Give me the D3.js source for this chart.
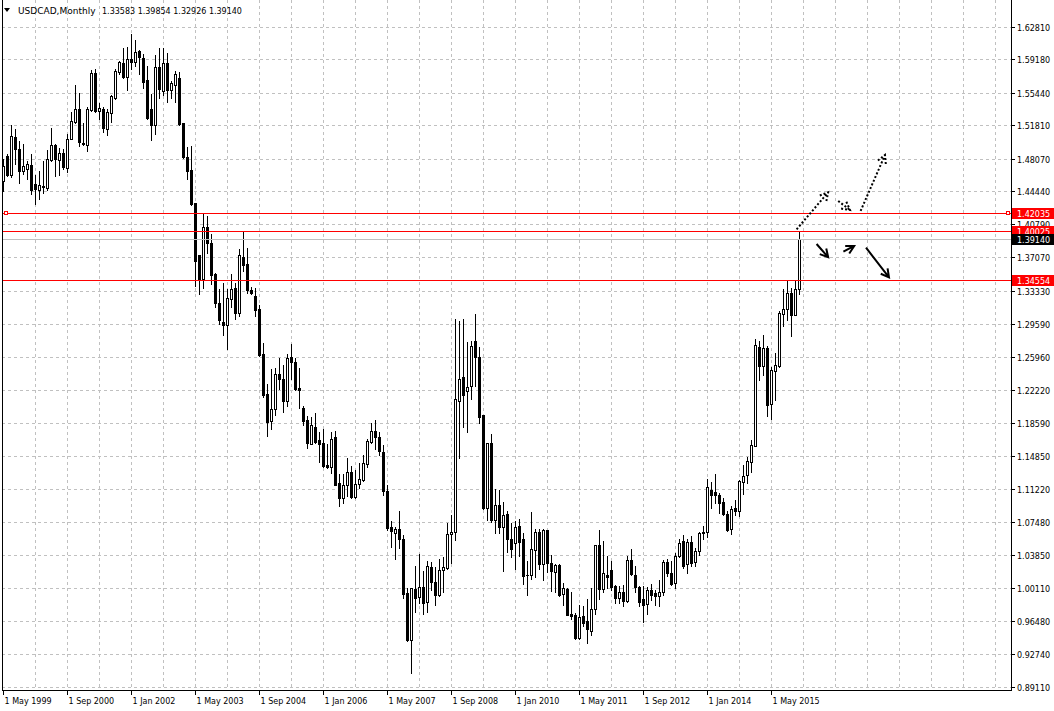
<!DOCTYPE html>
<html><head><meta charset="utf-8">
<script src="https://cdn.jsdelivr.net/npm/d3@7"></script>
<style>
body{margin:0;background:#fff;}
svg{display:block;}
text{font-family:"DejaVu Sans",Tahoma,sans-serif;font-size:8px;fill:#000;}
</style>
</head><body>
<svg id="chart" width="1054" height="711"></svg>
<script>
// ---------------- data (monthly USDCAD, first bar = May 1999) ----------------
const openPrices = [
1.4558,1.4837,1.4625,1.5053,1.4911,1.4669,1.4688,1.4733,1.4521,1.4457,
1.4491,1.4483,1.4792,1.4956,1.4792,1.4867,1.4703,1.5031,1.5217,1.5358,
1.4978,1.4960,1.5351,1.5760,1.5339,1.5366,1.5135,1.5321,1.5485,1.5775,
1.5879,1.5723,1.5924,1.5887,1.6006,1.5935,1.5682,1.5366,1.5179,1.5834,
1.5563,1.5872,1.5574,1.5626,1.5712,1.5202,1.4830,1.4677,1.4308,1.3728,
1.3460,1.4048,1.3862,1.3516,1.3199,1.2980,1.2946,1.3244,1.3367,1.3088,
1.3713,1.3627,1.3337,1.3274,1.3132,1.2622,1.2183,1.1878,1.2015,1.2406,
1.2350,1.2101,1.2596,1.2540,1.2253,1.2026,1.1885,1.1624,1.1814,1.1662,
1.1639,1.1390,1.1368,1.1695,1.1182,1.1018,1.1163,1.1312,1.1029,1.1178,
1.1219,1.1401,1.1643,1.1773,1.1706,1.1531,1.1103,1.0694,1.0631,1.0668,
1.0567,0.9953,0.9432,0.9998,0.9916,1.0028,0.9856,1.0251,1.0080,0.9931,
1.0214,1.0240,1.0619,1.0642,1.2101,1.2372,1.2212,1.2268,1.2771,1.2596,
1.1941,1.0910,1.1628,1.0772,1.0936,1.0698,1.0846,1.0567,1.0519,1.0712,
1.0556,1.0165,1.0165,1.0437,1.0642,1.0277,1.0657,1.0296,1.0191,1.0266,
0.9942,1.0005,0.9719,0.9708,0.9458,0.9700,0.9644,0.9532,0.9782,1.0489,
1.0005,1.0165,1.0210,1.0035,0.9904,0.9968,0.9867,1.0332,1.0165,1.0027,
0.9886,0.9837,0.9997,0.9953,0.9923,0.9971,1.0310,1.0184,1.0072,1.0370,
1.0537,1.0284,1.0533,1.0303,1.0429,1.0623,1.0638,1.1114,1.1084,1.1058,
1.0973,1.0846,1.0675,1.0909,1.0872,1.1200,1.1274,1.1423,1.1598,1.2707,
1.2491,1.2689,1.2071,1.2435,1.2491,1.3079,1.3132,1.3310,1.3068,1.33583];
const highPrices = [
1.4800,1.4856,1.5179,1.5135,1.5001,1.4967,1.4781,1.4856,1.4625,1.4666,
1.4781,1.4900,1.5146,1.4967,1.4930,1.4911,1.5086,1.5328,1.5626,1.5544,
1.5209,1.5388,1.5797,1.5812,1.5432,1.5388,1.5358,1.5514,1.5812,1.5901,
1.6047,1.6054,1.6196,1.6132,1.6021,1.5972,1.5842,1.5526,1.5961,1.6047,
1.6043,1.5991,1.5674,1.5786,1.5775,1.5209,1.4941,1.4949,1.4308,1.3728,
1.4204,1.4167,1.3962,1.3534,1.3356,1.3423,1.3356,1.3516,1.3415,1.3795,
1.4000,1.3813,1.3374,1.3367,1.3169,1.2752,1.2287,1.2462,1.2473,1.2585,
1.2499,1.2622,1.2734,1.2585,1.2473,1.2052,1.1933,1.1926,1.1971,1.1758,
1.1792,1.1617,1.1755,1.1766,1.1282,1.1282,1.1461,1.1375,1.1330,1.1412,
1.1494,1.1680,1.1859,1.1885,1.1755,1.1606,1.1170,1.0761,1.0698,1.0873,
1.0601,1.0017,1.0017,1.0258,1.0389,1.0203,1.0314,1.0303,1.0251,1.0340,
1.0359,1.0735,1.0824,1.3013,1.2994,1.3013,1.2760,1.2771,1.3069,1.2707,
1.1941,1.1636,1.1729,1.1122,1.1107,1.0973,1.0873,1.0742,1.0761,1.0787,
1.0631,1.0314,1.0861,1.0675,1.0675,1.0675,1.0657,1.0378,1.0277,1.0277,
1.0065,1.0016,0.9968,0.9730,0.9819,0.9811,0.9893,1.0016,1.0489,1.0667,
1.0537,1.0370,1.0314,1.0053,1.0042,1.0053,1.0370,1.0452,1.0258,1.0035,
1.0035,1.0027,1.0064,0.9997,1.0109,1.0332,1.0340,1.0314,1.0407,1.0556,
1.0608,1.0563,1.0600,1.0463,1.0638,1.0705,1.1226,1.1200,1.1282,1.1077,
1.1021,1.0872,1.0928,1.1002,1.1215,1.1393,1.1479,1.1672,1.2800,1.2778,
1.2834,1.2715,1.2484,1.2640,1.3105,1.3355,1.3448,1.3362,1.3448,1.39854];
const lowPrices = [
1.4446,1.4614,1.4606,1.4744,1.4539,1.4640,1.4576,1.4409,1.4297,1.4353,
1.4428,1.4454,1.4781,1.4614,1.4621,1.4688,1.4662,1.5031,1.5202,1.4949,
1.4956,1.4893,1.5343,1.5328,1.5254,1.5105,1.5068,1.5217,1.5470,1.5756,
1.5712,1.5574,1.5805,1.5842,1.5749,1.5600,1.5246,1.5016,1.5086,1.5488,
1.5514,1.5440,1.5488,1.5440,1.5179,1.4818,1.4584,1.4286,1.3385,1.3292,
1.3367,1.3758,1.3404,1.3155,1.2957,1.2835,1.2678,1.3155,1.3013,1.3050,
1.3553,1.3311,1.3292,1.3050,1.2603,1.2149,1.1710,1.1792,1.1941,1.2231,
1.1978,1.2052,1.2343,1.2224,1.2019,1.1829,1.1583,1.1617,1.1628,1.1420,
1.1368,1.1353,1.1293,1.1159,1.0928,1.0958,1.1040,1.1021,1.1021,1.1133,
1.1208,1.1364,1.1628,1.1561,1.1494,1.1048,1.0660,1.0471,1.0340,1.0463,
0.9905,0.9421,0.9067,0.9745,0.9842,0.9719,0.9745,0.9990,0.9830,0.9923,
0.9968,1.0229,1.0296,1.0549,1.1468,1.1814,1.1758,1.2127,1.2268,1.1859,
1.0899,1.0779,1.0750,1.0631,1.0631,1.0203,1.0415,1.0363,1.0229,1.0370,
1.0054,0.9931,1.0110,1.0139,1.0221,1.0102,1.0191,0.9979,0.9968,0.9923,
0.9830,0.9708,0.9663,0.9440,0.9440,0.9595,0.9402,0.9495,0.9729,0.9886,
0.9968,1.0016,0.9990,0.9849,0.9849,0.9811,0.9856,1.0154,0.9968,0.9811,
0.9633,0.9729,0.9878,0.9819,0.9811,0.9938,1.0146,1.0053,1.0016,1.0362,
1.0239,1.0184,1.0265,1.0265,1.0388,1.0556,1.0585,1.0909,1.0965,1.0853,
1.0824,1.0656,1.0612,1.0835,1.0816,1.1069,1.1189,1.1311,1.1598,1.2342,
1.2398,1.1940,1.1907,1.2119,1.2484,1.2945,1.3012,1.2826,1.3061,1.32926];
const closePrices = [
1.4725,1.4625,1.5060,1.4911,1.4669,1.4722,1.4744,1.4457,1.4465,1.4509,
1.4502,1.4800,1.4964,1.4800,1.4867,1.4710,1.5031,1.5232,1.5366,1.4993,
1.4971,1.5366,1.5760,1.5339,1.5377,1.5150,1.5332,1.5507,1.5786,1.5887,
1.5723,1.5924,1.5887,1.6002,1.5946,1.5663,1.5265,1.5179,1.5834,1.5581,
1.5872,1.5574,1.5648,1.5749,1.5191,1.4830,1.4669,1.4297,1.3665,1.3460,
1.4048,1.3869,1.3505,1.3192,1.3006,1.2946,1.3248,1.3348,1.3088,1.3728,
1.3620,1.3341,1.3311,1.3117,1.2611,1.2164,1.1866,1.2015,1.2406,1.2350,
1.2101,1.2585,1.2536,1.2242,1.2224,1.1878,1.1628,1.1829,1.1647,1.1624,
1.1382,1.1360,1.1680,1.1170,1.1018,1.1163,1.1312,1.1029,1.1178,1.1226,
1.1405,1.1658,1.1773,1.1699,1.1543,1.1096,1.0683,1.0646,1.0668,1.0564,
0.9942,0.9432,1.0013,0.9901,1.0028,0.9849,1.0258,1.0080,0.9935,1.0214,
1.0251,1.0619,1.0642,1.2127,1.2350,1.2168,1.2261,1.2722,1.2596,1.1926,
1.0910,1.1628,1.0772,1.0936,1.0698,1.0824,1.0564,1.0452,1.0698,1.0526,
1.0147,1.0154,1.0452,1.0642,1.0277,1.0657,1.0296,1.0203,1.0266,0.9931,
1.0016,0.9711,0.9700,0.9458,0.9693,0.9625,0.9558,0.9785,1.0489,1.0005,
1.0184,1.0139,1.0027,0.9904,0.9971,0.9867,1.0332,1.0176,1.0020,0.9856,
0.9822,0.9997,0.9938,0.9930,0.9971,1.0310,1.0184,1.0064,1.0377,1.0518,
1.0265,1.0533,1.0295,1.0425,1.0623,1.0638,1.1144,1.1054,1.1054,1.0965,
1.0842,1.0667,1.0898,1.0872,1.1207,1.1263,1.1431,1.1609,1.2726,1.2491,
1.2689,1.2063,1.2447,1.2499,1.3087,1.3132,1.3310,1.3061,1.3355,1.39140];

const xTickLabels = ["1 May 1999","1 Sep 2000","1 Jan 2002","1 May 2003","1 Sep 2004",
  "1 Jan 2006","1 May 2007","1 Sep 2008","1 Jan 2010","1 May 2011","1 Sep 2012","1 Jan 2014","1 May 2015"];
const xTickBars = [0,16,32,48,64,80,96,112,128,144,160,176,192];
const yTickValues = [1.62810,1.59180,1.55440,1.51810,1.48070,1.44440,1.40790,1.37070,1.33330,
  1.29590,1.25960,1.22220,1.18590,1.14850,1.11220,1.07480,1.03850,1.00110,0.96480,0.92740,0.89110];
const levelLines = [1.42035, 1.40025, 1.34554];
const bidPrice = 1.39140;
const headerSymbol = "USDCAD,Monthly";
const headerValues = "1.33583 1.39854 1.32926 1.39140";
// hand-drawn arrows: [bar, price] start and end, dotted flag
const arrowStart = [[198.4,1.4025],[208.8,1.4342],[214.4,1.4230],[203.4,1.3861],[210.1,1.3775],[215.75,1.3820]];
const arrowEnd   = [[206.3,1.4439],[211.75,1.4241],[220.5,1.4855],[206.3,1.3713],[212.8,1.3839],[221.5,1.3489]];
const arrowDotted = [true,true,true,false,false,false];

// ---------------- drawing ----------------
(function draw() {
const svg = d3.select("#chart");
const W = 1054, H = 711;
const pLeft = 2, pRight = 1011, pTop = 0, pBottom = 690;
const n = closePrices.length;
const x = d3.scaleLinear().domain([0, n - 1]).range([3, 3 + 4 * (n - 1)]);
const y = d3.scaleLinear().domain([0.8911, 1.6281]).range([687.3, 27.3]);
const cx = i => Math.round(x(i));
const ry = v => Math.floor(y(v));

svg.append("rect").attr("width", W).attr("height", H).attr("fill", "#fff");

const grid = svg.append("g").attr("stroke", "#c0c0c0").attr("stroke-width", 1).attr("stroke-dasharray", "3,3");
d3.range(8, 252, 8).forEach(b => {
  grid.append("line").attr("x1", cx(b) + 0.5).attr("x2", cx(b) + 0.5).attr("y1", pTop).attr("y2", pBottom);
});
yTickValues.forEach(v => {
  grid.append("line").attr("x1", pLeft).attr("x2", pRight).attr("y1", ry(v) + 0.5).attr("y2", ry(v) + 0.5);
});

// candles
const cg = svg.append("g");
for (let i = 0; i < n; i++) {
  const c = cx(i);
  const o = openPrices[i], h = highPrices[i], l = lowPrices[i], cl = closePrices[i];
  cg.append("line").attr("x1", c + 0.5).attr("x2", c + 0.5)
    .attr("y1", ry(h)).attr("y2", ry(l) + 1).attr("stroke", "#000");
  const yt = ry(Math.max(o, cl)), yb = ry(Math.min(o, cl));
  if (cl >= o) {
    cg.append("rect").attr("x", c - 0.5).attr("y", yt + 0.5).attr("width", 2)
      .attr("height", Math.max(0, yb - yt)).attr("fill", "#fff").attr("stroke", "#000");
  } else {
    cg.append("rect").attr("x", c - 1).attr("y", yt).attr("width", 3)
      .attr("height", yb - yt + 1).attr("fill", "#000");
  }
}

// level lines
const lg = svg.append("g");
lg.append("line").attr("x1", pLeft).attr("x2", pRight).attr("y1", ry(bidPrice) + 0.5).attr("y2", ry(bidPrice) + 0.5)
  .attr("stroke", "#c0c0c0");
levelLines.forEach(v => {
  lg.append("line").attr("x1", pLeft).attr("x2", pRight).attr("y1", ry(v) + 0.5).attr("y2", ry(v) + 0.5)
    .attr("stroke", "#ff0000");
});
[4, 1006].forEach(px => {
  lg.append("rect").attr("x", px + 0.5).attr("y", ry(levelLines[0]) - 1.5).attr("width", 3).attr("height", 3)
    .attr("fill", "#fff").attr("stroke", "#ff0000");
});

// arrows
const ag = svg.append("g").attr("stroke", "#000").attr("fill", "none").attr("stroke-width", 2);
arrowStart.forEach((s, k) => {
  const x1 = x(s[0]), y1 = y(s[1]), x2 = x(arrowEnd[k][0]), y2 = y(arrowEnd[k][1]);
  const ang = Math.atan2(y2 - y1, x2 - x1), hl = 9, spread = 0.5;
  const p = `M${x1},${y1}L${x2},${y2}M${x2 - hl * Math.cos(ang - spread)},${y2 - hl * Math.sin(ang - spread)}L${x2},${y2}L${x2 - hl * Math.cos(ang + spread)},${y2 - hl * Math.sin(ang + spread)}`;
  const path = ag.append("path").attr("d", p);
  if (arrowDotted[k]) path.attr("stroke-dasharray", "2,2");
});

// frame
const fg = svg.append("g").attr("stroke", "#000").attr("stroke-width", 1);
fg.append("line").attr("x1", pLeft + 0.5).attr("x2", pLeft + 0.5).attr("y1", pTop).attr("y2", pBottom + 1);
fg.append("line").attr("x1", pLeft).attr("x2", pRight + 1).attr("y1", pBottom + 0.5).attr("y2", pBottom + 0.5);
fg.append("line").attr("x1", pRight + 0.5).attr("x2", pRight + 0.5).attr("y1", pTop).attr("y2", pBottom + 1);

// right axis
const ya = svg.append("g");
yTickValues.forEach(v => {
  const yy = ry(v) + 0.5;
  ya.append("line").attr("x1", pRight + 1).attr("x2", pRight + 4).attr("y1", yy).attr("y2", yy).attr("stroke", "#000");
  ya.append("text").attr("x", 1017).attr("y", yy + 3).text(v.toFixed(5));
});

// price label boxes
function priceBox(v, bg) {
  const yy = ry(v);
  ya.append("rect").attr("x", pRight + 1).attr("y", yy - 5).attr("width", W - pRight - 1).attr("height", 11).attr("fill", bg);
  ya.append("text").attr("x", 1017).attr("y", yy + 3.5).style("fill", "#fff").text(v.toFixed(5));
}
levelLines.forEach(v => priceBox(v, "#ff0000"));
priceBox(bidPrice, "#000");

// bottom axis
const xa = svg.append("g");
xTickBars.forEach((b, k) => {
  const xx = cx(b) + 0.5;
  xa.append("line").attr("x1", xx).attr("x2", xx).attr("y1", pBottom + 1).attr("y2", pBottom + 5).attr("stroke", "#000");
  xa.append("text").attr("x", xx + 1).attr("y", 704).text(xTickLabels[k]);
});

// header
svg.append("path").attr("d", "M4,8L10,8L7,12Z").attr("fill", "#000");
svg.append("text").attr("x", 18).attr("y", 14).style("font-size", "9px").text(headerSymbol);
svg.append("text").attr("x", 102).attr("y", 14).text(headerValues);
})();
</script>
</body></html>
